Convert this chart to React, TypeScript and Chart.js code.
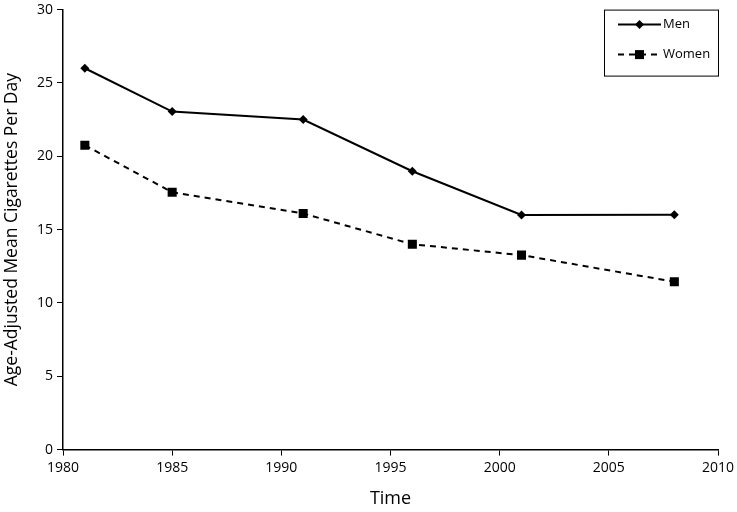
import React, { useEffect, useRef } from "react";
import { Chart, registerables } from "chart.js";

Chart.register(...registerables);

const years = [1981, 1985, 1991, 1996, 2001, 2008];
const menValues = [26.0, 23.05, 22.5, 18.98, 16.0, 16.02];
const womenValues = [20.75, 17.55, 16.1, 14.0, 13.26, 11.45];
const xTicks = [1980, 1985, 1990, 1995, 2000, 2005, 2010];
const yTicks = [0, 5, 10, 15, 20, 25, 30];
const seriesLabels = ["Men", "Women"];
const xTitle = "Time";
const yTitle = "Age-Adjusted Mean Cigarettes Per Day";

const FONT = "'Open Sans', 'DejaVu Sans', sans-serif";

const boxLegend = {
  id: "boxLegend",
  afterDraw(chart: any) {
    const ctx = chart.ctx as CanvasRenderingContext2D;
    const area = chart.chartArea;
    const bx = area.right - 114;
    const by = area.top;
    const bw = 114;
    const bh = 66;
    ctx.save();
    ctx.strokeStyle = "#000";
    ctx.lineWidth = 1;
    ctx.strokeRect(bx + 0.5, by + 0.5, bw, bh);
    chart.data.datasets.forEach((ds: any, i: number) => {
      const y = by + 15 + i * 30;
      const x0 = bx + 14;
      const x1 = bx + 57;
      ctx.beginPath();
      ctx.lineWidth = 2;
      ctx.setLineDash(ds.borderDash || []);
      ctx.moveTo(x0, y);
      ctx.lineTo(x1, y);
      ctx.stroke();
      ctx.setLineDash([]);
      ctx.fillStyle = "#000";
      const cx = (x0 + x1) / 2;
      if (ds.pointStyle === "rect") {
        ctx.fillRect(cx - 4.5, y - 4.5, 9, 9);
      } else {
        ctx.beginPath();
        ctx.moveTo(cx, y - 4.5);
        ctx.lineTo(cx + 4.5, y);
        ctx.lineTo(cx, y + 4.5);
        ctx.lineTo(cx - 4.5, y);
        ctx.closePath();
        ctx.fill();
      }
      ctx.font = `13px ${FONT}`;
      ctx.textBaseline = "middle";
      ctx.textAlign = "left";
      ctx.fillText(ds.label, x1 + 2, y);
    });
    ctx.restore();
  },
};

export default function App() {
  const ref = useRef<HTMLCanvasElement | null>(null);
  useEffect(() => {
    if (!ref.current) return;
    const chart = new Chart(ref.current, {
      type: "line",
      data: {
        datasets: [
          {
            label: seriesLabels[0],
            data: years.map((x, i) => ({ x, y: menValues[i] })),
            borderColor: "#000",
            backgroundColor: "#000",
            borderWidth: 2,
            pointStyle: "rectRot",
            pointRadius: 4.5,
            pointBorderWidth: 0,
            tension: 0,
          },
          {
            label: seriesLabels[1],
            data: years.map((x, i) => ({ x, y: womenValues[i] })),
            borderColor: "#000",
            backgroundColor: "#000",
            borderWidth: 2,
            borderDash: [6, 5],
            pointStyle: "rect",
            pointRadius: 6.4,
            pointBorderWidth: 0,
            tension: 0,
          },
        ],
      },
      options: {
        animation: false,
        responsive: false,
        maintainAspectRatio: false,
        layout: { padding: { left: 1, right: 19, top: 6, bottom: 2 } },
        plugins: {
          legend: { display: false },
          tooltip: { enabled: false },
        },
        scales: {
          x: {
            type: "linear",
            min: 1980,
            max: 2010,
            afterBuildTicks: (axis: any) => {
              axis.ticks = xTicks.map((v) => ({ value: v }));
            },
            afterFit: (axis: any) => {
              axis.paddingRight = 0;
              axis.paddingLeft = 0;
            },
            ticks: {
              callback: (v: any) => String(v),
              color: "#000",
              font: { family: FONT, size: 14 },
              padding: 4,
              maxRotation: 0,
            },
            grid: {
              drawOnChartArea: false,
              tickLength: 6,
              color: "#000",
            },
            border: { color: "#000", width: 1.5 },
            title: {
              display: true,
              text: xTitle,
              color: "#000",
              font: { family: FONT, size: 18 },
              padding: { top: 8, bottom: 0 },
            },
          },
          y: {
            min: 0,
            max: 30,
            afterBuildTicks: (axis: any) => {
              axis.ticks = yTicks.map((v) => ({ value: v }));
            },
            ticks: {
              color: "#000",
              font: { family: FONT, size: 14, lineHeight: 0.8 },
              padding: 4,
            },
            grid: {
              drawOnChartArea: false,
              tickLength: 6,
              color: "#000",
            },
            border: { color: "#000", width: 1.5 },
            title: {
              display: true,
              text: yTitle,
              color: "#000",
              font: { family: FONT, size: 17.5 },
              padding: { top: 1, bottom: 10 },
            },
          },
        },
      },
      plugins: [boxLegend],
    });
    return () => chart.destroy();
  }, []);
  return (
    <div style={{ position: "fixed", left: 0, top: 0, width: 737, height: 512, background: "#fff" }}>
      <canvas ref={ref} width={737} height={512} style={{ width: 737, height: 512 }} />
    </div>
  );
}
